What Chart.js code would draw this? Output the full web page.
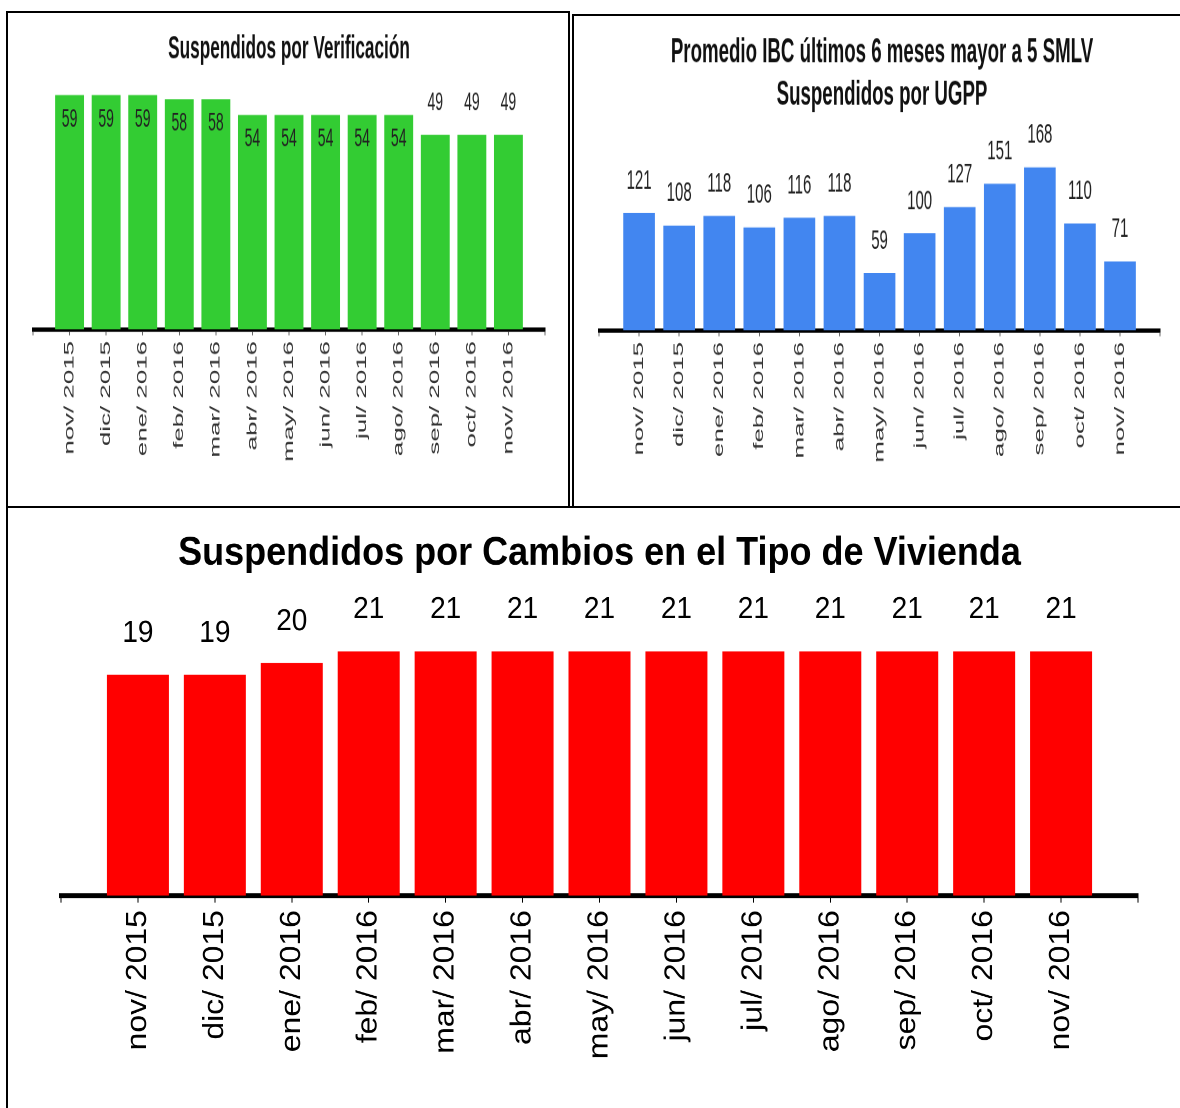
<!DOCTYPE html>
<html>
<head>
<meta charset="utf-8">
<script src="https://cdn.jsdelivr.net/npm/chart.js@4.4.1/dist/chart.umd.min.js"></script>
<style>
  body { margin: 0; background: #fff; width: 1180px; height: 1108px; overflow: hidden; position: relative; }
  .box { position: absolute; border: 2px solid #000; box-sizing: border-box; }
  canvas { position: absolute; }
</style>
</head>
<body>
<div class="box" style="left:6px;top:11px;width:564px;height:497px"></div>
<div class="box" style="left:572px;top:14px;width:620px;height:494px"></div>
<div class="box" style="left:6px;top:506px;width:1200px;height:620px"></div>

<!-- the source image is stretched vertically, so each canvas is drawn short and shown taller -->
<canvas id="verifChart" width="560" height="266" style="left:8px;top:13px;width:560px;height:492px"></canvas>
<canvas id="ugppChart" width="607" height="264" style="left:573px;top:16px;width:607px;height:488px"></canvas>
<canvas id="viviendaChart" width="1172" height="545" style="left:8px;top:508px;width:1172px;height:600px"></canvas>

<script>
// DATA
var months = ["nov/ 2015", "dic/ 2015", "ene/ 2016", "feb/ 2016", "mar/ 2016", "abr/ 2016", "may/ 2016",
              "jun/ 2016", "jul/ 2016", "ago/ 2016", "sep/ 2016", "oct/ 2016", "nov/ 2016"];
var verificacion = [59, 59, 59, 58, 58, 54, 54, 54, 54, 54, 49, 49, 49];
var ugpp = [121, 108, 118, 106, 116, 118, 59, 100, 127, 151, 168, 110, 71];
var vivienda = [19, 19, 20, 21, 21, 21, 21, 21, 21, 21, 21, 21, 21];

Chart.defaults.font.family = "'Liberation Sans', Arial, sans-serif";

// value labels over (or inside) each bar
var barValues = {
    id: 'barValues',
    afterDatasetsDraw: function(chart, args, opts) {
        var ctx = chart.ctx;
        var meta = chart.getDatasetMeta(0);
        var data = chart.data.datasets[0].data;
        ctx.save();
        ctx.font = opts.font;
        ctx.fillStyle = opts.color;
        ctx.textAlign = 'center';
        ctx.textBaseline = 'middle';
        meta.data.forEach(function(bar, i) {
            var v = data[i].y;
            var inside = opts.insideFrom != null && v >= opts.insideFrom;
            ctx.fillText(String(v), bar.x, inside ? bar.y + opts.inside : bar.y - opts.above);
        });
        ctx.restore();
    }
};

function barChart(id, values, o) {
    var ctx = document.getElementById(id).getContext('2d');
    return new Chart(ctx, {
        type: 'bar',
        data: {
            datasets: [{
                data: values.map(function(v, i) { return { x: i, y: v }; }),
                backgroundColor: o.color,
                borderWidth: 0,
                barPercentage: o.barPct,
                categoryPercentage: 1
            }]
        },
        options: {
            responsive: false,
            animation: false,
            devicePixelRatio: 2,
            layout: { padding: { left: o.left, right: o.right, top: 0, bottom: 0 } },
            plugins: {
                legend: { display: false },
                tooltip: { enabled: false },
                title: {
                    display: true,
                    text: o.title,
                    color: o.titleColor,
                    font: o.titleFont,
                    padding: o.titlePad
                },
                barValues: o.values
            },
            scales: {
                x: {
                    type: 'linear',
                    min: -1,
                    max: 13,
                    offset: false,
                    afterFit: function(s) { s.height = o.axisHeight; },
                    grid: { offset: false, drawOnChartArea: false, drawTicks: true, tickLength: o.tickLen, color: o.tickMarkColor, lineWidth: 1 },
                    border: { display: true, color: '#000', width: o.axisWidth },
                    ticks: {
                        stepSize: 1,
                        autoSkip: false,
                        minRotation: 90,
                        maxRotation: 90,
                        padding: o.tickPad,
                        color: o.tickColor,
                        font: o.tickFont,
                        callback: function(v) { return months[v] || ''; }
                    }
                },
                y: { display: false, min: 0, max: o.yMax }
            }
        },
        plugins: [barValues]
    });
}

//TOP LEFT
barChart('verifChart', verificacion, {
    color: '#33cc33', barPct: 0.79, left: 25, right: 23,
    title: 'Suspendidos por Verificación', titleColor: '#111',
    titleFont: { size: 17.2, weight: 'bold', lineHeight: 1.25 }, titlePad: { top: 9.2, bottom: 0 },
    axisHeight: 95, tickLen: 3.2, tickPad: 3.1, axisWidth: 2.4, tickMarkColor: '#666',
    tickColor: '#333', tickFont: { size: 14 },
    yMax: 65.4,
    values: { font: "14px 'Liberation Sans', Arial, sans-serif", color: '#222', insideFrom: 50, inside: 13, above: 17.3 }
});

//TOP RIGHT
barChart('ugppChart', ugpp, {
    color: '#4286f0', barPct: 0.79, left: 26, right: 15,
    title: ['Promedio IBC últimos 6 meses mayor a 5 SMLV', 'Suspendidos por UGPP'], titleColor: '#111',
    titleFont: { size: 18.7, weight: 'bold', lineHeight: 1.214 }, titlePad: { top: 8.65, bottom: 4 },
    axisHeight: 94, tickLen: 3.2, tickPad: 3.1, axisWidth: 2.4, tickMarkColor: '#666',
    tickColor: '#333', tickFont: { size: 14 },
    yMax: 213.3,
    values: { font: "15px 'Liberation Sans', Arial, sans-serif", color: '#222', above: 17.3 }
});

//BOTTOM
barChart('viviendaChart', vivienda, {
    color: '#ff0000', barPct: 0.806, left: 53, right: 42,
    title: 'Suspendidos por Cambios en el Tipo de Vivienda', titleColor: '#000',
    titleFont: { size: 36, weight: 'bold', lineHeight: 1.2 }, titlePad: { top: 20.2, bottom: 6.6 },
    axisHeight: 193, tickLen: 6.4, tickPad: 6.8, axisWidth: 4.5, tickMarkColor: '#000',
    tickColor: '#000', tickFont: { size: 29 },
    yMax: 26.7,
    values: { font: "28px 'Liberation Sans', Arial, sans-serif", color: '#000', above: 37.7 }
});
</script>
</body>
</html>
